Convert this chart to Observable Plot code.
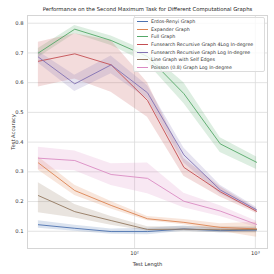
<!DOCTYPE html>
<html><head><meta charset="utf-8">
<script src="https://cdn.jsdelivr.net/npm/d3@7"></script>
<script src="https://cdn.jsdelivr.net/npm/@observablehq/plot@0.6"></script>
<style>
html,body{margin:0;padding:0;background:#fff;}
#wrap{position:relative;width:274px;height:274px;font-family:"DejaVu Sans",sans-serif;}
#legend{position:absolute;left:133px;top:16.5px;width:132px;height:55px;background:rgba(255,255,255,0.8);border:1px solid #dcdcdc;border-radius:2px;box-sizing:border-box;padding-top:0.5px;}
.li{display:flex;align-items:center;height:7.6px;font-size:4.75px;color:#333;white-space:nowrap;}
.li span.sw{display:inline-block;width:10.5px;height:1px;margin-left:3px;margin-right:3.5px;}
</style></head>
<body><div id="wrap"></div>
<script>
const testLengths = [16, 32, 64, 128, 256, 512, 1024];
const seriesNames = [
  "Erdos-Renyi Graph",
  "Expander Graph",
  "Full Graph",
  "Funsearch Recursive Graph 4Log In-degree",
  "Funsearch Recursive Graph Log In-degree",
  "Line Graph with Self Edges",
  "Poisson (0.8) Graph Log In-degree"
];
const colors = ["#4C72B0", "#DD8452", "#55A868", "#C44E52", "#8172B3", "#937860", "#DA8BC3"];
const meanErdos    = [0.122, 0.110, 0.099, 0.099, 0.108, 0.102, 0.104];
const loErdos      = [0.110, 0.100, 0.090, 0.088, 0.100, 0.095, 0.095];
const hiErdos      = [0.135, 0.120, 0.108, 0.110, 0.118, 0.110, 0.112];
const meanExpander = [0.330, 0.237, 0.187, 0.142, 0.130, 0.113, 0.108];
const loExpander   = [0.305, 0.220, 0.175, 0.135, 0.122, 0.100, 0.080];
const hiExpander   = [0.350, 0.255, 0.200, 0.150, 0.140, 0.125, 0.130];
const meanFull     = [0.700, 0.780, 0.742, 0.688, 0.563, 0.394, 0.332];
const loFull       = [0.685, 0.765, 0.725, 0.665, 0.530, 0.365, 0.308];
const hiFull       = [0.715, 0.792, 0.757, 0.705, 0.600, 0.415, 0.350];
const mean4Log     = [0.672, 0.697, 0.660, 0.540, 0.315, 0.233, 0.167];
const lo4Log       = [0.585, 0.612, 0.568, 0.484, 0.285, 0.215, 0.160];
const hi4Log       = [0.736, 0.765, 0.742, 0.600, 0.345, 0.250, 0.175];
const meanLog      = [0.686, 0.596, 0.660, 0.566, 0.357, 0.239, 0.172];
const loLog        = [0.665, 0.570, 0.630, 0.545, 0.330, 0.225, 0.165];
const hiLog        = [0.705, 0.625, 0.690, 0.590, 0.380, 0.255, 0.180];
const meanLine     = [0.220, 0.166, 0.136, 0.106, 0.107, 0.105, 0.106];
const loLine       = [0.162, 0.145, 0.120, 0.100, 0.100, 0.095, 0.095];
const hiLine       = [0.263, 0.190, 0.150, 0.115, 0.115, 0.115, 0.115];
const meanPoisson  = [0.346, 0.338, 0.291, 0.278, 0.201, 0.168, 0.123];
const loPoisson    = [0.308, 0.304, 0.254, 0.226, 0.179, 0.150, 0.113];
const hiPoisson    = [0.383, 0.370, 0.327, 0.330, 0.228, 0.186, 0.134];
const yTicks = [0.1, 0.2, 0.3, 0.4, 0.5, 0.6, 0.7, 0.8];
const xTicks = [100, 1000];
const xTickLabels = ["10\u00b2", "10\u00b3"];
const titleText = "Performance on the Second Maximum Task for Different Computational Graphs";

const means = [meanErdos, meanExpander, meanFull, mean4Log, meanLog, meanLine, meanPoisson];
const los = [loErdos, loExpander, loFull, lo4Log, loLog, loLine, loPoisson];
const his = [hiErdos, hiExpander, hiFull, hi4Log, hiLog, hiLine, hiPoisson];
const rows = [];
seriesNames.forEach((s, i) => testLengths.forEach((L, j) => rows.push({series: s, x: L, y: means[i][j], lo: los[i][j], hi: his[i][j]})));

const fontFam = "DejaVu Sans, sans-serif";
const chart = Plot.plot({
  width: 274, height: 274,
  marginLeft: 27, marginRight: 7, marginTop: 15, marginBottom: 26,
  style: {fontFamily: fontFam, fontSize: "5.2px", color: "#333", background: "#fff"},
  x: {type: "log", domain: [13.0, 1260]},
  y: {domain: [0.042, 0.826]},
  color: {domain: seriesNames, range: colors},
  marks: [
    Plot.gridX(xTicks, {stroke: "#dcdcdc", strokeOpacity: 1, strokeWidth: 0.8}),
    Plot.gridY(yTicks, {stroke: "#dcdcdc", strokeOpacity: 1, strokeWidth: 0.8}),
    Plot.frame({stroke: "#d5d5d5", strokeWidth: 1}),
    Plot.areaY(rows, {x: "x", y1: "lo", y2: "hi", z: "series", fill: "series", fillOpacity: 0.2}),
    Plot.line(rows, {x: "x", y: "y", z: "series", stroke: "series", strokeWidth: 0.9}),
    Plot.axisX({ticks: xTicks, tickFormat: (d) => xTickLabels[xTicks.indexOf(d)], tickSize: 0, tickPadding: 3, label: "Test Length", labelAnchor: "center", labelArrow: "none", labelOffset: 17, fontSize: 5.2}),
    Plot.axisY({ticks: yTicks, tickFormat: d3.format(".1f"), tickSize: 0, tickPadding: 4, label: "Test Accuracy", labelAnchor: "center", labelArrow: "none", labelOffset: 16, fontSize: 5.2}),
    Plot.text([titleText], {frameAnchor: "top", dy: -8, fontSize: 5.3, fill: "#222"})
  ]
});
const wrap = document.getElementById("wrap");
wrap.appendChild(chart);
const leg = document.createElement("div");
leg.id = "legend";
seriesNames.forEach((s, i) => {
  const d = document.createElement("div");
  d.className = "li";
  d.innerHTML = `<span class="sw" style="background:${colors[i]}"></span><span>${s}</span>`;
  leg.appendChild(d);
});
wrap.appendChild(leg);
</script></body></html>
